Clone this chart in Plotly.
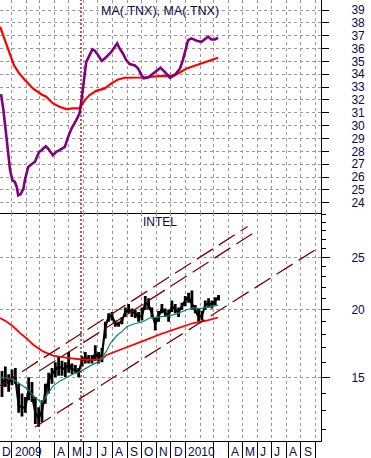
import plotly.graph_objects as go

# ---------------- data ----------------
# top panel: moving averages of .TNX
tnx_fast_dates = ["2008-12-10","2008-12-15","2008-12-22","2008-12-29","2009-01-03","2009-01-08","2009-01-12",
    "2009-01-15","2009-01-20","2009-01-26","2009-01-29","2009-02-05","2009-02-12","2009-02-19","2009-02-28",
    "2009-03-05","2009-03-14","2009-03-19","2009-03-29","2009-04-05","2009-04-12","2009-04-23","2009-04-30",
    "2009-05-07","2009-05-17","2009-05-24","2009-05-28","2009-05-31","2009-06-04","2009-06-07","2009-06-14",
    "2009-06-20","2009-06-25","2009-07-02","2009-07-09","2009-07-16","2009-07-23","2009-07-30","2009-08-06",
    "2009-08-11","2009-08-16","2009-08-23","2009-08-30","2009-09-06","2009-09-17","2009-09-24","2009-10-01",
    "2009-10-06","2009-10-15","2009-10-29","2009-11-10","2009-11-19","2009-11-30","2009-12-10","2009-12-21",
    "2009-12-27","2010-01-01","2010-01-07","2010-01-14","2010-01-25","2010-02-04","2010-02-18","2010-02-25",
    "2010-03-04","2010-03-11"]
tnx_fast = [32.45,31.21,28.87,26.53,25.75,25.62,25.23,24.58,24.66,25.10,25.75,26.79,27.0,27.18,27.96,
    28.09,28.40,28.22,27.70,27.96,28.09,28.35,29.13,29.78,30.43,30.95,31.99,32.77,34.06,34.97,35.49,
    35.94,35.83,35.49,35.05,35.23,35.49,35.75,36.14,36.40,36.01,35.62,35.10,34.79,34.69,34.45,33.94,
    33.68,33.75,34.19,34.51,34.19,33.73,33.94,34.45,35.10,35.88,36.66,36.79,36.61,36.53,36.92,36.71,
    36.71,36.84]

tnx_slow_dates = ["2008-12-08","2008-12-18","2008-12-29","2009-01-06","2009-01-15","2009-01-29","2009-02-15",
    "2009-03-05","2009-03-15","2009-03-29","2009-04-12","2009-04-26","2009-05-10","2009-05-24","2009-06-04",
    "2009-06-14","2009-06-28","2009-07-16","2009-07-30","2009-08-13","2009-08-27","2009-09-13","2009-10-04",
    "2009-10-25","2009-11-08","2009-11-30","2009-12-14","2010-01-04","2010-01-25","2010-02-15","2010-03-11"]
tnx_slow = [37.70,36.66,35.49,34.71,34.19,33.55,32.90,32.43,32.25,31.73,31.47,31.29,31.34,31.34,31.99,
    32.38,32.71,32.90,33.29,33.60,33.73,33.73,33.75,33.81,33.86,33.86,34.01,34.45,34.71,35.03,35.29]

# bottom panel: INTEL weekly high / low / close
intc_dates = ["2008-12-12","2008-12-19","2008-12-26","2009-01-02","2009-01-09","2009-01-16","2009-01-23",
    "2009-01-30","2009-02-06","2009-02-13","2009-02-20","2009-02-27","2009-03-06","2009-03-13","2009-03-20",
    "2009-03-27","2009-04-03","2009-04-10","2009-04-17","2009-04-24","2009-05-01","2009-05-08","2009-05-15",
    "2009-05-22","2009-05-29","2009-06-05","2009-06-12","2009-06-19","2009-06-26","2009-07-03","2009-07-10",
    "2009-07-17","2009-07-24","2009-07-31","2009-08-07","2009-08-14","2009-08-21","2009-08-28","2009-09-04",
    "2009-09-11","2009-09-18","2009-09-25","2009-10-02","2009-10-09","2009-10-16","2009-10-23","2009-10-30",
    "2009-11-06","2009-11-13","2009-11-20","2009-11-27","2009-12-04","2009-12-11","2009-12-18","2009-12-25",
    "2010-01-01","2010-01-08","2010-01-15","2010-01-22","2010-01-29","2010-02-05","2010-02-12","2010-02-19",
    "2010-02-26","2010-03-05","2010-03-12"]
intc_high = [15.4,15.7,15.2,15.5,15.6,14.6,14.0,13.8,15.0,14.7,13.8,13.2,13.6,14.6,15.3,15.6,16.0,16.4,16.1,
    16.0,16.7,15.9,15.8,15.6,16.4,16.7,16.5,16.5,17.2,16.7,17.0,19.0,19.7,19.8,19.1,19.0,19.4,20.2,20.5,
    20.1,20.0,19.8,20.2,21.2,21.0,20.2,19.4,19.9,20.5,20.1,20.0,20.8,20.5,20.2,20.6,21.2,21.5,21.7,20.4,
    20.1,19.9,20.8,21.0,20.8,21.1,21.3]
intc_low = [13.8,14.4,14.1,14.5,14.6,12.9,12.7,12.9,13.6,13.5,12.3,12.15,12.4,13.4,14.0,14.6,15.0,15.1,15.1,
    15.0,15.3,15.2,15.3,15.0,15.7,15.9,15.9,15.9,16.1,15.9,16.0,17.7,19.0,19.1,18.6,18.6,18.8,19.4,19.7,
    19.4,19.3,19.0,19.1,20.0,20.0,19.4,18.3,19.0,19.7,19.4,19.0,19.8,19.7,19.4,20.0,20.3,20.6,20.0,19.7,
    19.0,19.1,20.0,20.2,20.1,20.4,20.8]
intc_close = [14.4,15.0,14.6,15.0,15.0,13.3,13.2,13.2,14.2,13.9,12.9,12.6,13.0,14.1,14.8,15.2,15.5,15.7,15.6,
    15.5,15.9,15.5,15.5,15.3,16.1,16.3,16.2,16.1,16.6,16.3,16.5,18.6,19.4,19.5,18.8,18.8,19.1,19.8,20.0,
    19.8,19.7,19.4,19.5,20.6,20.4,19.7,18.8,19.5,20.1,19.7,19.5,20.3,20.0,19.8,20.3,20.8,21.1,20.5,20.0,
    19.4,19.5,20.4,20.6,20.4,20.8,21.1]

ma_short_dates = ["2008-12-08","2008-12-22","2009-01-05","2009-01-19","2009-02-02","2009-02-15","2009-02-26",
    "2009-03-05","2009-03-15","2009-03-29","2009-04-12","2009-04-27","2009-05-10","2009-05-24","2009-06-07",
    "2009-06-21","2009-07-05","2009-07-12","2009-07-20","2009-07-27","2009-08-10","2009-08-23","2009-08-31",
    "2009-09-13","2009-10-04","2009-10-18","2009-11-08","2009-11-30","2009-12-14","2010-01-04","2010-01-18",
    "2010-02-01","2010-02-15","2010-03-11"]
ma_short = [15.0,14.95,14.85,14.55,14.3,13.9,13.6,13.45,13.85,14.45,14.75,15.0,15.2,15.35,15.6,15.85,16.05,
    16.4,16.8,17.3,17.9,18.3,18.6,18.8,19.0,19.3,19.4,19.5,19.65,20.0,20.15,20.1,20.2,20.4]

ma_long_dates = ["2008-12-08","2008-12-22","2009-01-05","2009-01-19","2009-02-02","2009-02-15","2009-03-08",
    "2009-03-29","2009-04-27","2009-05-24","2009-06-21","2009-07-09","2009-07-20","2009-08-10","2009-08-31",
    "2009-10-04","2009-11-08","2009-12-14","2010-01-18","2010-02-15","2010-03-11"]
ma_long = [19.3,19.0,18.6,18.1,17.7,17.25,16.75,16.45,16.3,16.2,16.15,16.2,16.5,16.8,17.05,17.5,18.0,18.45,
    18.9,19.1,19.35]

# trend channel lines (start, end)
chan_upper_a_dates = ["2008-12-08", "2010-05-12"]
chan_upper_a = [14.47, 28.5]
chan_upper_b_dates = ["2009-03-01", "2010-06-03"]
chan_upper_b = [15.42, 28.08]
chan_lower_dates = ["2009-02-19", "2010-09-30"]
chan_lower = [12.13, 25.78]

marker_date = "2009-05-27"

month_starts = ["2008-12-01","2009-01-01","2009-02-01","2009-03-01","2009-04-01","2009-05-01","2009-06-01",
    "2009-07-01","2009-08-01","2009-09-01","2009-10-01","2009-11-01","2009-12-01","2010-01-01","2010-02-01",
    "2010-03-01","2010-04-01","2010-05-01","2010-06-01","2010-07-01","2010-08-01","2010-09-01","2010-10-01"]
month_labels = ["D","2009","","","A","M","J","J","A","S","O","N","D","2010","","","A","M","J","J","A","S",""]

top_ticks = list(range(24, 40))
bottom_major = [15, 20, 25]
bottom_minor = [12, 13, 14, 16, 17, 18, 19, 21, 22, 23, 24, 26, 27, 28, 29, 30]

# ---------------- style ----------------
FONT = "Liberation Sans, Arial, sans-serif"
TXT = "#0a0a46"
GRID = "#999999"
DASH = "#800000"
x_range = ["2008-12-07 19:00", "2010-10-13 05:00"]
split = 0.5181

fig = go.Figure()

# top panel
fig.add_trace(go.Scatter(x=tnx_slow_dates, y=tnx_slow, mode="lines",
                         line=dict(color="#ff0000", width=2.2), xaxis="x", yaxis="y"))
fig.add_trace(go.Scatter(x=tnx_fast_dates, y=tnx_fast, mode="lines",
                         line=dict(color="#800080", width=2.6), xaxis="x", yaxis="y"))

# bottom panel price
up = [h - c for h, c in zip(intc_high, intc_close)]
dn = [c - l for c, l in zip(intc_close, intc_low)]
fig.add_trace(go.Scatter(x=intc_dates, y=intc_close, mode="lines",
                         line=dict(color="black", width=2.2),
                         error_y=dict(type="data", symmetric=False, array=up, arrayminus=dn,
                                      thickness=2.8, width=0, color="black"),
                         xaxis="x2", yaxis="y2"))
fig.add_trace(go.Scatter(x=ma_long_dates, y=ma_long, mode="lines",
                         line=dict(color="#ff0000", width=1.8), xaxis="x2", yaxis="y2"))
fig.add_trace(go.Scatter(x=ma_short_dates, y=ma_short, mode="lines",
                         line=dict(color="#008b7a", width=1.2), xaxis="x2", yaxis="y2"))
for d, v in [(chan_upper_a_dates, chan_upper_a), (chan_upper_b_dates, chan_upper_b),
             (chan_lower_dates, chan_lower)]:
    fig.add_trace(go.Scatter(x=d, y=v, mode="lines",
                             line=dict(color=DASH, width=1.3, dash="19px,7px"),
                             xaxis="x2", yaxis="y2"))

# vertical marker line across both panels
fig.add_shape(type="line", xref="x", yref="paper", x0=marker_date, x1=marker_date, y0=0, y1=1,
              line=dict(color="#990000", width=1.3, dash="2px,2px"))

grid_common = dict(showgrid=True, gridcolor=GRID, griddash="3px,3px", gridwidth=1, zeroline=False)

fig.update_layout(
    width=371, height=458, margin=dict(l=0, r=50, t=0, b=17),
    plot_bgcolor="white", paper_bgcolor="white", showlegend=False,
    font=dict(family=FONT, size=12, color=TXT),
    xaxis=dict(domain=[0, 1], anchor="y", type="date", range=x_range,
               tickmode="array", tickvals=month_starts, showticklabels=False, ticks="",
               showline=True, linecolor="black", linewidth=1, **grid_common),
    yaxis=dict(domain=[split, 1], anchor="x", side="right", range=[23.24, 39.78],
               tickmode="array", tickvals=top_ticks, ticks="outside", ticklen=7, tickcolor="black",
               showline=True, linecolor="black", linewidth=1, ticklabelstandoff=20,
               tickfont=dict(family=FONT, size=12, color=TXT), **grid_common),
    xaxis2=dict(domain=[0, 1], anchor="y2", type="date", range=x_range, matches="x",
                tickmode="array", tickvals=[m for m in month_starts if not m.endswith("-02-01")],
                showticklabels=False, ticks="outside", ticklen=16, tickcolor="black",
                showline=True, linecolor="black", linewidth=1,
                minor=dict(tickmode="array",
                           tickvals=[m for m in month_starts if m.endswith("-02-01")],
                           showgrid=True, gridcolor=GRID, griddash="3px,3px", ticks=""),
                **grid_common),
    yaxis2=dict(domain=[0, split], anchor="x2", side="right", type="log", range=[1.0583, 1.4808],
                tickmode="array", tickvals=bottom_major, ticktext=[str(v) for v in bottom_major],
                ticks="outside", ticklen=8, tickcolor="black",
                minor=dict(tickmode="array", tickvals=bottom_minor, ticks="outside", ticklen=4,
                           tickcolor="black", showgrid=False),
                showline=True, linecolor="black", linewidth=1, ticklabelstandoff=19,
                tickfont=dict(family=FONT, size=12, color=TXT), **grid_common),
)

annos = [
    dict(text="MA(.TNX), MA(.TNX)", xref="paper", yref="paper", x=0.497, y=1 - 10.5 / 441,
         xanchor="center", yanchor="middle", showarrow=False, font=dict(family=FONT, size=12.5, color=TXT)),
    dict(text="INTEL", xref="paper", yref="paper", x=159.7 / 321, y=1 - 222 / 441,
         xanchor="center", yanchor="middle", showarrow=False, font=dict(family=FONT, size=12, color=TXT)),
]
for m, t in zip(month_starts, month_labels):
    if not t:
        continue
    if m < x_range[0]:
        # month starting before the visible range: label sits at the left edge
        annos.append(dict(text=t, xref="paper", yref="paper", x=0, y=-10.7 / 441, xanchor="left",
                          yanchor="middle", xshift=0, showarrow=False,
                          font=dict(family=FONT, size=12, color=TXT)))
    else:
        annos.append(dict(text=t, xref="x2", yref="paper", x=m, y=-10.7 / 441, xanchor="left",
                          yanchor="middle", xshift=1, showarrow=False,
                          font=dict(family=FONT, size=12, color=TXT)))
fig.update_layout(annotations=annos)

fig.write_html("out.html")
